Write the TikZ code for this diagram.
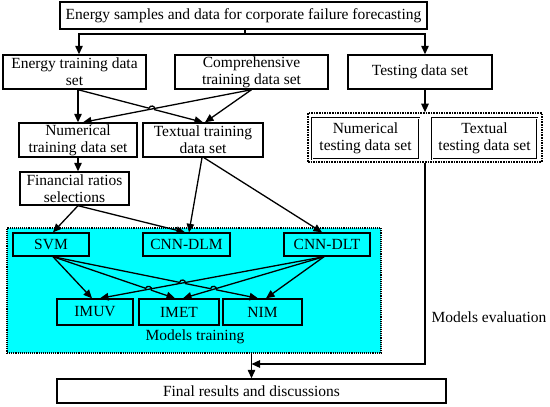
\documentclass[tikz,border=0pt]{standalone}
\usepackage{fontspec}
\setmainfont{Liberation Serif}
\usetikzlibrary{calc,intersections,arrows.meta}
\definecolor{aqua}{RGB}{0,255,255}
\begin{document}
\begin{tikzpicture}[x=1pt,y=-1pt,
  txt/.style={inner sep=0pt, align=center, font=\fontsize{15.5}{17}\selectfont},
  box/.style={txt, draw, line width=1.4pt},
  dbox/.style={txt, draw, line width=0.9pt, double, double distance=0.8pt},
  arr/.style={line width=1.3pt, -{Triangle[length=8.5pt,width=7.5pt]}},
  ln/.style={line width=1.3pt},
  hop/.style={bend left=90, looseness=1.7}]
\useasboundingbox (0,0) rectangle (550,407);

% group boxes
\node[draw, densely dotted, line width=1.1pt, fill=aqua, minimum width=374pt, minimum height=125pt, inner sep=0pt] (trainbox) at (194,290.5) {};
\node[draw, densely dotted, line width=1.6pt, minimum width=234pt, minimum height=49pt, inner sep=0pt] (testbox) at (425,137.5) {};

% boxes
\node[box, minimum width=367pt, minimum height=27pt] (top) at (243.5,15.5) {Energy samples and data for corporate failure forecasting};
\node[box, minimum width=143pt, minimum height=34pt] (energy) at (74.5,72) {Energy training data\\set};
\node[box, minimum width=153pt, minimum height=34pt] (comp) at (251.5,72) {Comprehensive\\training data set};
\node[box, minimum width=144pt, minimum height=34pt] (testing) at (420,72) {Testing data set};
\node[box, minimum width=118pt, minimum height=34pt] (numtrain) at (78,140) {Numerical\\training data set};
\node[box, minimum width=120pt, minimum height=34pt] (texttrain) at (203,140) {Textual training\\data set};
\node[box, minimum width=109pt, minimum height=33pt] (fin) at (74.5,188.5) {Financial ratios\\selections};
\node[dbox, minimum width=107pt, minimum height=41pt] (numtest) at (365.5,138.5) {Numerical\\testing data set};
\node[dbox, minimum width=105pt, minimum height=41pt] (texttest) at (484.5,138.5) {Textual\\testing data set};
\node[box, minimum width=76pt, minimum height=23pt] (svm) at (51,244.5) {SVM};
\node[box, minimum width=87pt, minimum height=23pt] (cnndlm) at (186.5,244.5) {CNN-DLM};
\node[box, minimum width=86pt, minimum height=23pt] (cnndlt) at (327,244.5) {CNN-DLT};
\node[box, minimum width=76pt, minimum height=26pt] (imuv) at (95,312) {IMUV};
\node[box, minimum width=80pt, minimum height=26pt] (imet) at (179,312) {IMET};
\node[box, minimum width=79pt, minimum height=26pt] (nim) at (262.5,312) {NIM};
\node[txt] (trainlbl) at (195,337) {Models training};
\node[box, minimum width=389pt, minimum height=24pt] (final) at (251.5,391) {Final results and discussions};
\node[txt] (evallbl) at (489,317) {Models evaluation};

% top split
\coordinate (split) at (245,34);
\draw[ln] (top.south -| split) -- (split);
\draw[arr] (split) -| ([xshift=4.5pt]energy.north);
\draw[arr] (split) -| ([xshift=5pt]testing.north);
\draw[arr] ([xshift=5pt]testing.south) -- ([xshift=5pt]testing.south |- testbox.north);

% training data
\coordinate (eS) at ([xshift=3.5pt]energy.south);
\coordinate (tN) at (texttrain.north);
\draw[arr] (eS) -- (eS |- numtrain.north);
\draw[arr, name path=cn] (comp.south) -- ([xshift=5pt]numtrain.north);
\draw[arr] (comp.south) -- ([xshift=2pt]texttrain.north);
\path[name path=et] (eS) -- (tN);
\path[name intersections={of=et and cn, by=x1}];
\draw[arr] (eS) -- ($(x1)!3pt!(eS)$) to[hop] ($(x1)!3pt!(tN)$) -- (tN);

\draw[arr] (numtrain.south) -- (numtrain.south |- fin.north);
\draw[arr] ([xshift=3.5pt]fin.south) -- ([xshift=2pt]svm.north);
\draw[arr] ([xshift=3.5pt]fin.south) -- ([xshift=-1.5pt]cnndlm.north);
\draw[arr] ([xshift=-1pt]texttrain.south) -- ([xshift=2.5pt]cnndlm.north);
\draw[arr] ([xshift=1pt]texttrain.south) -- ([xshift=-5pt]cnndlt.north);

% models
\coordinate (sS) at ([xshift=2pt]svm.south);
\coordinate (dS) at ([xshift=-3pt]cnndlt.south);
\coordinate (uA) at ([xshift=-3pt]imuv.north);
\coordinate (mA) at ([xshift=-4pt]imet.north);
\coordinate (nA) at ([xshift=-4.5pt]nim.north);
\draw[arr, name path=du] (dS) -- ([xshift=5pt]imuv.north);
\draw[arr, name path=dm] (dS) -- ([xshift=4pt]imet.north);
\draw[arr] (dS) -- ([xshift=3.5pt]nim.north);
\draw[arr] (sS) -- (uA);
\path[name path=sm] (sS) -- (mA);
\path[name path=sn] (sS) -- (nA);
\path[name intersections={of=sm and du, by=h1}];
\path[name intersections={of=sn and du, by=h2}];
\path[name intersections={of=sn and dm, by=h3}];
\draw[arr] (sS) -- ($(h1)!3pt!(sS)$) to[hop] ($(h1)!3pt!(mA)$) -- (mA);
\draw[arr] (sS) -- ($(h2)!3pt!(sS)$) to[hop] ($(h2)!3pt!(nA)$) -- ($(h3)!3pt!(sS)$) to[hop] ($(h3)!3pt!(nA)$) -- (nA);

% evaluation
\coordinate (ej) at (251.5,364);
\draw[arr] (trainbox.south -| final.north) -- (final.north);
\draw[arr] (testbox.south) |- (ej);
\end{tikzpicture}
\end{document}
